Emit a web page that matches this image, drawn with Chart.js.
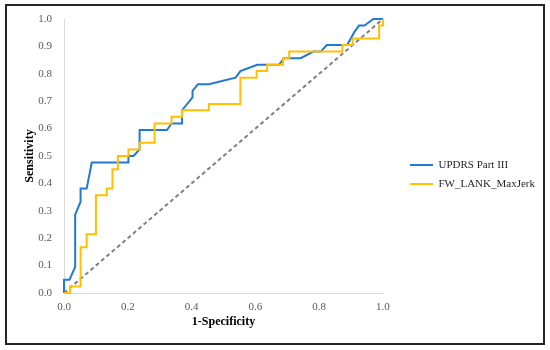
<!DOCTYPE html>
<html>
<head>
<meta charset="utf-8">
<title>ROC curves</title>
<script src="https://cdn.jsdelivr.net/npm/chart.js@4.4.1/dist/chart.umd.min.js"></script>
<style>
  body { margin: 0; background: #fff; }
  canvas { display: block; }
</style>
</head>
<body>
<canvas id="rocChart" width="550" height="350"></canvas>
<script>
// Series labels
const seriesLabels = ["UPDRS Part III", "FW_LANK_MaxJerk"];

// UPDRS Part III curve (1-specificity, sensitivity)
const updrsFpr = [0, 0, 0.017, 0.035, 0.035, 0.052, 0.052, 0.071, 0.087, 0.202, 0.202, 0.218, 0.237, 0.237,
  0.323, 0.337, 0.37, 0.37, 0.403, 0.403, 0.42, 0.454, 0.538, 0.553, 0.606, 0.674, 0.69, 0.742, 0.782,
  0.805, 0.824, 0.873, 0.888, 0.91, 0.925, 0.942, 0.97, 1.0];
const updrsTpr = [0, 0.048, 0.048, 0.095, 0.286, 0.333, 0.381, 0.381, 0.476, 0.476, 0.5, 0.5, 0.524, 0.595,
  0.595, 0.619, 0.619, 0.667, 0.714, 0.738, 0.762, 0.762, 0.786, 0.81, 0.833, 0.833, 0.857, 0.857, 0.881,
  0.881, 0.905, 0.905, 0.905, 0.952, 0.976, 0.976, 1.0, 1.0];

// FW_LANK_MaxJerk curve
const jerkFpr = [0, 0.019, 0.019, 0.052, 0.052, 0.071, 0.071, 0.1, 0.1, 0.134, 0.134, 0.152, 0.152, 0.169,
  0.169, 0.202, 0.202, 0.237, 0.237, 0.284, 0.284, 0.337, 0.337, 0.37, 0.37, 0.454, 0.454, 0.553, 0.553,
  0.604, 0.604, 0.637, 0.637, 0.687, 0.687, 0.706, 0.706, 0.873, 0.873, 0.905, 0.905, 0.988, 0.988, 1.0, 1.0];
const jerkTpr = [0, 0, 0.024, 0.024, 0.167, 0.167, 0.214, 0.214, 0.357, 0.357, 0.381, 0.381, 0.452, 0.452,
  0.5, 0.5, 0.524, 0.524, 0.548, 0.548, 0.619, 0.619, 0.643, 0.643, 0.667, 0.667, 0.69, 0.69, 0.786,
  0.786, 0.81, 0.81, 0.833, 0.833, 0.857, 0.857, 0.881, 0.881, 0.905, 0.905, 0.929, 0.929, 0.976, 0.976, 1.0];

// Reference line
const chanceFpr = [0, 1];
const chanceTpr = [0, 1];

// Tick values
const xTickValues = [0, 0.2, 0.4, 0.6, 0.8, 1.0];
const yTickValues = [0, 0.1, 0.2, 0.3, 0.4, 0.5, 0.6, 0.7, 0.8, 0.9, 1.0];

const FONT = "'Liberation Serif', 'Times New Roman', serif";

function toPoints(xs, ys) {
    return xs.map((x, i) => ({ x: x, y: ys[i] }));
}

// Black frame around the whole chart (like the Excel chart border)
const framePlugin = {
    id: "frame",
    afterDraw(chart) {
        const ctx = chart.ctx;
        ctx.save();
        ctx.strokeStyle = "#262626";
        ctx.lineWidth = 2;
        ctx.strokeRect(6, 5, 538, 339);
        ctx.restore();
    }
};

function createRocChart() {
    const ctx = document.getElementById("rocChart").getContext("2d");

    window.rocChart = new Chart(ctx, {
        type: "scatter",
        data: {
            datasets: [{
                label: seriesLabels[0],
                data: toPoints(updrsFpr, updrsTpr),
                borderColor: "#2178d6",
                backgroundColor: "#2178d6",
                borderWidth: 2,
                pointBorderWidth: 2,
                showLine: true,
                order: 1
            }, {
                label: seriesLabels[1],
                data: toPoints(jerkFpr, jerkTpr),
                borderColor: "#ffc000",
                backgroundColor: "#ffc000",
                borderWidth: 2,
                pointBorderWidth: 2,
                showLine: true,
                order: 0
            }, {
                data: toPoints(chanceFpr, chanceTpr),
                borderColor: "#808080",
                borderWidth: 2,
                borderDash: [4, 3],
                showLine: true,
                order: 2
            }]
        },
        options: {
            responsive: false,
            animation: false,
            devicePixelRatio: 1,
            layout: { padding: { top: 19, right: 5, bottom: 20, left: 0 } },
            elements: {
                point: { radius: 0, hoverRadius: 0 },
                line: { borderWidth: 2, tension: 0 }
            },
            datasets: { scatter: { clip: 4 } },
            scales: {
                x: {
                    type: "linear",
                    min: 0,
                    max: 1,
                    afterBuildTicks: s => { s.ticks = xTickValues.map(v => ({ value: v })); },
                    afterFit: s => { s.height = 37; },
                    ticks: {
                        callback: v => v.toFixed(1),
                        color: "#595959",
                        font: { family: FONT, size: 11 },
                        padding: 8,
                        maxRotation: 0,
                        autoSkip: false
                    },
                    grid: { display: false, drawTicks: false },
                    border: { color: "#d9d9d9", width: 1 },
                    title: {
                        display: true,
                        text: "1-Specificity",
                        color: "#000",
                        font: { family: FONT, size: 12, weight: "bold" },
                        padding: { top: 0, bottom: 1 }
                    }
                },
                y: {
                    type: "linear",
                    min: 0,
                    max: 1,
                    afterBuildTicks: s => { s.ticks = yTickValues.map(v => ({ value: v })); },
                    afterFit: s => { s.width = 64; },
                    ticks: {
                        callback: v => v.toFixed(1),
                        color: "#595959",
                        font: { family: FONT, size: 11 },
                        padding: 12,
                        autoSkip: false
                    },
                    grid: { display: false, drawTicks: false },
                    border: { color: "#d9d9d9", width: 1 },
                    title: {
                        display: true,
                        text: "Sensitivity",
                        color: "#000",
                        font: { family: FONT, size: 12, weight: "bold" },
                        padding: { top: 23, bottom: 0 }
                    }
                },
                // empty space between plot and legend
                gap: {
                    type: "linear",
                    axis: "y",
                    position: "right",
                    ticks: { display: false },
                    grid: { display: false, drawTicks: false },
                    border: { display: false },
                    afterFit: s => { s.width = 19; }
                }
            },
            plugins: {
                tooltip: { enabled: false },
                legend: {
                    position: "right",
                    maxWidth: 200,
                    labels: {
                        usePointStyle: true,
                        pointStyle: "line",
                        pointStyleWidth: 23,
                        boxWidth: 23,
                        padding: 8,
                        color: "#262626",
                        font: { family: FONT, size: 11 },
                        filter: item => !!item.text,
                        sort: (a, b) => a.datasetIndex - b.datasetIndex
                    }
                }
            }
        },
        plugins: [framePlugin]
    });
}

document.addEventListener("DOMContentLoaded", createRocChart);
</script>
</body>
</html>
